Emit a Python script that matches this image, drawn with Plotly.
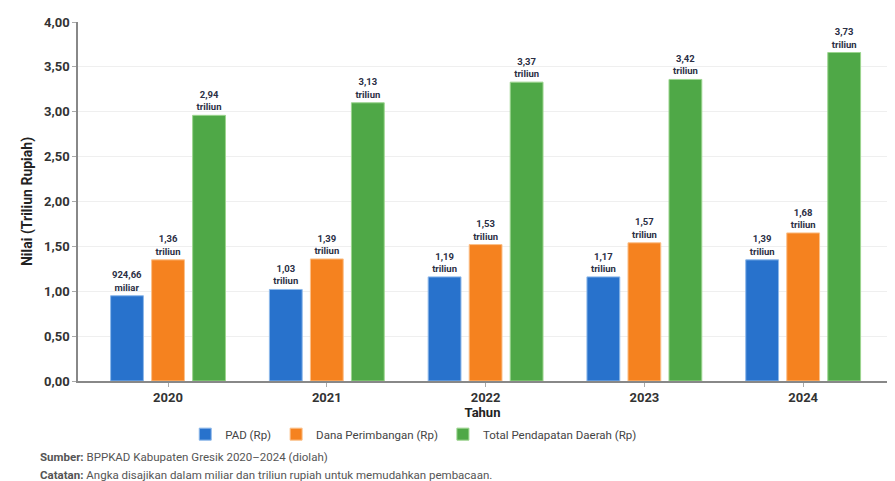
import plotly.graph_objects as go

years = ["2020", "2021", "2022", "2023", "2024"]
pad_values = [0.95, 1.02, 1.16, 1.16, 1.35]
dana_values = [1.35, 1.36, 1.52, 1.54, 1.65]
total_values = [2.96, 3.10, 3.33, 3.36, 3.66]

pad_labels = ["924,66<br>miliar", "1,03<br>triliun", "1,19<br>triliun", "1,17<br>triliun", "1,39<br>triliun"]
dana_labels = ["1,36<br>triliun", "1,39<br>triliun", "1,53<br>triliun", "1,57<br>triliun", "1,68<br>triliun"]
total_labels = ["2,94<br>triliun", "3,13<br>triliun", "3,37<br>triliun", "3,42<br>triliun", "3,73<br>triliun"]

series_names = ["PAD (Rp)", "Dana Perimbangan (Rp)", "Total Pendapatan Daerah (Rp)"]
colors = ["#2872CC", "#F5821F", "#4FA847"]
edge_colors = ["#8DB8EA", "#FBC08A", "#9CD58F"]

fig = go.Figure()
for name, vals, labs, col, edge in zip(series_names,
                                       [pad_values, dana_values, total_values],
                                       [pad_labels, dana_labels, total_labels],
                                       colors, edge_colors):
    fig.add_trace(go.Bar(
        x=years, y=vals, name=name,
        marker=dict(color=col, line=dict(color=edge, width=1)),
        text=labs, textposition="outside", cliponaxis=False,
        constraintext="none",
        textfont=dict(size=9.5, color="#2b2f45", family="Roboto", weight="bold"),
    ))

fig.update_layout(
    width=887, height=473,
    margin=dict(l=70, r=8, t=14, b=100),
    paper_bgcolor="white", plot_bgcolor="white",
    font=dict(family="Roboto", color="#333333"),
    separators=",.",
    barmode="group", bargap=0.225, bargroupgap=0.2,
    showlegend=True,
    legend=dict(orientation="h", x=0.415, xanchor="center", y=-0.148, yanchor="middle",
                font=dict(size=11.5, color="#444444"), itemwidth=30, traceorder="normal"),
    xaxis=dict(
        type="category", range=[-0.567, 4.528],
        showline=True, linecolor="#888888", linewidth=1.5,
        ticks="outside", ticklen=4, tickcolor="#aaaaaa",
        tickfont=dict(size=13, color="#333333", weight="bold"),
        title=dict(text="<b>Tahun</b>", font=dict(size=13, color="#222222"), standoff=2),
    ),
    yaxis=dict(
        range=[0, 4], dtick=0.5, tickformat=".2f",
        showline=True, linecolor="#888888", linewidth=1.5,
        ticks="outside", ticklen=4, tickcolor="#aaaaaa",
        showgrid=True, gridcolor="#efefef", gridwidth=1,
        zeroline=False,
        tickfont=dict(size=13, color="#333333", weight="bold"),
        title=dict(text="<b>Nilai (Triliun Rupiah)</b>", font=dict(size=14, color="#222222"), standoff=8),
    ),
)

fig.add_annotation(
    xref="paper", yref="paper", x=-0.049, y=-0.212, xanchor="left", yanchor="middle",
    text="<b>Sumber:</b> BPPKAD Kabupaten Gresik 2020–2024 (diolah)",
    showarrow=False, font=dict(size=11.5, color="#555555"),
)
fig.add_annotation(
    xref="paper", yref="paper", x=-0.049, y=-0.262, xanchor="left", yanchor="middle",
    text="<b>Catatan:</b> Angka disajikan dalam miliar dan triliun rupiah untuk memudahkan pembacaan.",
    showarrow=False, font=dict(size=11.5, color="#555555"),
)

fig.write_html("out.html")
